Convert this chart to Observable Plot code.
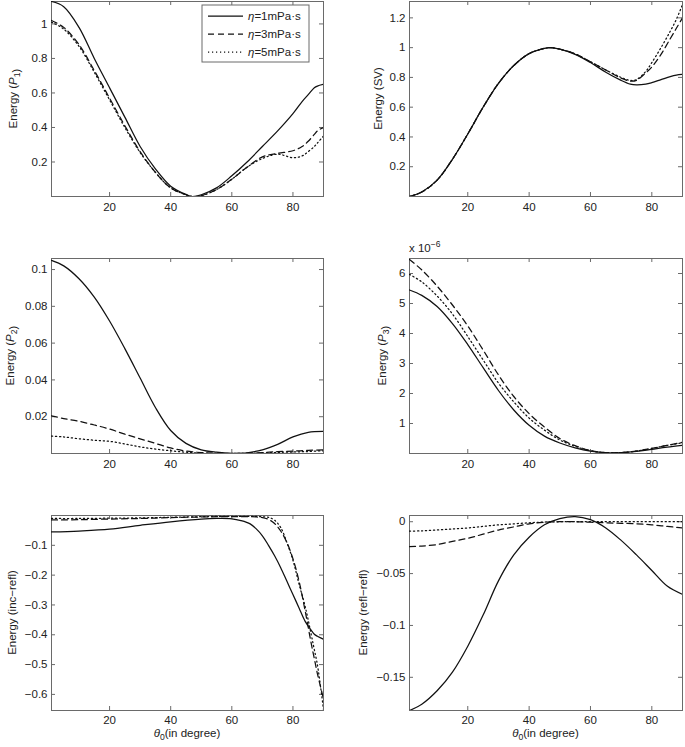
<!DOCTYPE html>
<html><head><meta charset="utf-8">
<script src="https://cdn.jsdelivr.net/npm/d3@7"></script>
<script src="https://cdn.jsdelivr.net/npm/@observablehq/plot@0.6"></script>
<style>
body{margin:0;background:#fff;}
#wrap{position:relative;width:685px;height:747px;background:#fff;font-family:"Liberation Sans",Arial,sans-serif;}
.panel{position:absolute;}
.panel svg{overflow:visible;}
</style></head><body><div id="wrap"></div>
<script>
// ---------- data ----------
const seriesNames = ["η=1mPa·s", "η=3mPa·s", "η=5mPa·s"];
const xTicks = [20, 40, 60, 80];

// Energy (P1)
const thetaP1 = [1,5,10,15,20,25,30,35,40,45,47,50,55,60,65,70,75,80,83,85,87,88,90];
const p1Eta1 = [1.13,1.10,0.98,0.80,0.63,0.46,0.29,0.16,0.06,0.012,0.0,0.01,0.05,0.12,0.20,0.29,0.38,0.48,0.55,0.59,0.63,0.64,0.65];
const p1Eta3 = [1.02,0.98,0.88,0.73,0.57,0.41,0.26,0.14,0.05,0.01,0.0,0.005,0.04,0.10,0.17,0.23,0.25,0.265,0.29,0.32,0.36,0.38,0.40];
const p1Eta5 = [1.01,0.97,0.87,0.72,0.56,0.40,0.255,0.14,0.05,0.01,0.0,0.005,0.04,0.10,0.17,0.22,0.245,0.225,0.235,0.26,0.29,0.31,0.35];
const p1Ticks = [0.2,0.4,0.6,0.8,1];

// Energy (SV)
const thetaSV = [1,5,10,15,20,25,30,35,40,45,47,50,55,60,65,70,73,75,78,80,83,86,88,90];
const svEta1 = [0,0.03,0.11,0.25,0.42,0.60,0.76,0.88,0.96,0.995,1.0,0.99,0.955,0.90,0.835,0.78,0.755,0.75,0.755,0.765,0.785,0.805,0.815,0.82];
const svEta3 = [0,0.03,0.11,0.25,0.42,0.60,0.76,0.88,0.96,0.995,1.0,0.99,0.958,0.905,0.85,0.795,0.775,0.78,0.83,0.87,0.955,1.06,1.13,1.20];
const svEta5 = [0,0.03,0.11,0.25,0.42,0.60,0.76,0.88,0.96,0.995,1.0,0.99,0.958,0.905,0.85,0.80,0.78,0.785,0.84,0.90,1.00,1.11,1.19,1.29];
const svTicks = [0.2,0.4,0.6,0.8,1,1.2];

// Energy (P2)
const thetaP2 = [1,5,10,15,20,25,30,35,40,45,50,55,60,65,70,75,80,85,90];
const p2Eta1 = [0.105,0.102,0.095,0.085,0.072,0.057,0.041,0.025,0.0125,0.0055,0.002,0.0007,0.0001,0.0004,0.002,0.005,0.009,0.0115,0.012];
const p2Eta3 = [0.0205,0.019,0.0175,0.0155,0.0133,0.0105,0.008,0.0055,0.003,0.0013,0.0005,0.0001,0,0.0002,0.0005,0.001,0.0013,0.0017,0.002];
const p2Eta5 = [0.0095,0.009,0.008,0.0072,0.0066,0.0052,0.0036,0.0024,0.0015,0.0007,0.0002,0,0,0.0001,0.0003,0.0006,0.0008,0.0011,0.0015];
const p2Ticks = [0.02,0.04,0.06,0.08,0.1];

// Energy (P3), in units of 1e-6
const thetaP3 = [1,5,10,15,20,25,30,35,40,45,50,55,60,65,70,75,80,85,90];
const p3Eta1 = [5.45,5.27,4.9,4.33,3.63,2.86,2.1,1.45,0.94,0.58,0.35,0.19,0.08,0.03,0.03,0.07,0.14,0.21,0.27];
const p3Eta3 = [6.47,6.12,5.58,4.95,4.25,3.45,2.62,1.9,1.33,0.88,0.5,0.26,0.1,0.03,0.03,0.08,0.17,0.27,0.37];
const p3Eta5 = [5.97,5.72,5.25,4.65,3.9,3.12,2.35,1.72,1.18,0.78,0.45,0.24,0.09,0.03,0.03,0.08,0.17,0.27,0.36];
const p3Ticks = [1,2,3,4,5,6];

// Energy (inc−refl)
const thetaInc = [1,10,20,30,40,50,55,60,63,66,68,70,72,74,76,78,80,82,84,86,87,88,90];
const incEta1 = [-0.055,-0.052,-0.046,-0.033,-0.021,-0.012,-0.01,-0.011,-0.017,-0.028,-0.045,-0.068,-0.1,-0.135,-0.175,-0.22,-0.265,-0.31,-0.355,-0.385,-0.398,-0.405,-0.415];
const incEta3 = [-0.015,-0.014,-0.012,-0.01,-0.007,-0.005,-0.004,-0.004,-0.004,-0.004,-0.005,-0.007,-0.013,-0.027,-0.052,-0.09,-0.145,-0.22,-0.32,-0.43,-0.48,-0.53,-0.615];
const incEta5 = [-0.01,-0.01,-0.009,-0.008,-0.006,-0.004,-0.003,-0.003,-0.003,-0.003,-0.003,-0.004,-0.006,-0.016,-0.04,-0.09,-0.15,-0.23,-0.305,-0.40,-0.45,-0.50,-0.65];
const incTicks = [-0.6,-0.5,-0.4,-0.3,-0.2,-0.1];

// Energy (refl−refl)
const thetaRefl = [1,5,10,15,20,25,30,35,40,45,50,55,60,65,70,75,80,85,90];
const reflEta1 = [-0.182,-0.176,-0.163,-0.145,-0.12,-0.09,-0.057,-0.032,-0.015,-0.003,0.003,0.005,0.002,-0.006,-0.018,-0.032,-0.047,-0.062,-0.07];
const reflEta3 = [-0.024,-0.0235,-0.022,-0.019,-0.016,-0.012,-0.008,-0.005,-0.002,-0.0005,0,0,-0.0005,-0.001,-0.0015,-0.002,-0.003,-0.0045,-0.006];
const reflEta5 = [-0.009,-0.0088,-0.008,-0.007,-0.006,-0.0045,-0.003,-0.002,-0.001,-0.0003,0,0,0,0,0,0,0,0,0];
const reflTicks = [-0.15,-0.1,-0.05,0];

// ---------- layout / style ----------
const FONT = '"Liberation Sans", Arial, Helvetica, sans-serif';
const BOX = "#6a6a6a";
const dashes = [null, "6,4", "1.2,2.8"];

const panels = [
  {theta: thetaP1, ys: [p1Eta1,p1Eta3,p1Eta5], domain: [0,1.13], ticks: p1Ticks,
   label: ["Energy (", {i:"P"}, {sub:"1"}, ")"], labelOff: 34, legend: true, tickPad: 6,
   left: 0, top: 0, width: 330, height: 215, mL: 51, mR: 7, mT: 1, mB: 19},
  {theta: thetaSV, ys: [svEta1,svEta3,svEta5], domain: [0,1.31], ticks: svTicks,
   label: ["Energy (SV)"], labelOff: 27, tickPad: 6,
   left: 340, top: 0, width: 345, height: 215, mL: 69, mR: 3, mT: 1, mB: 19},
  {theta: thetaP2, ys: [p2Eta1,p2Eta3,p2Eta5], domain: [0,0.106], ticks: p2Ticks,
   label: ["Energy (", {i:"P"}, {sub:"2"}, ")"], labelOff: 37, tickPad: 6,
   left: 0, top: 230, width: 330, height: 242, mL: 51, mR: 7, mT: 28, mB: 19},
  {theta: thetaP3, ys: [p3Eta1,p3Eta3,p3Eta5], domain: [0,6.5], ticks: p3Ticks,
   label: ["Energy (", {i:"P"}, {sub:"3"}, ")"], labelOff: 23, exponent: true, tickPad: 6,
   left: 340, top: 230, width: 345, height: 242, mL: 69, mR: 3, mT: 28, mB: 19},
  {theta: thetaInc, ys: [incEta1,incEta3,incEta5], domain: [-0.654,0], ticks: incTicks,
   label: ["Energy (inc−refl)"], labelOff: 35, xlabel: true, tickPad: 5,
   left: 0, top: 500, width: 330, height: 247, mL: 51, mR: 7, mT: 15, mB: 37},
  {theta: thetaRefl, ys: [reflEta1,reflEta3,reflEta5], domain: [-0.182,0.006], ticks: reflTicks,
   label: ["Energy (refl−refl)"], labelOff: 42, xlabel: true, tickPad: 5,
   left: 340, top: 500, width: 345, height: 247, mL: 69, mR: 3, mT: 15, mB: 37}
];

const wrap = document.getElementById("wrap");
const fmt = d3.format("~g");

function addRich(sel, parts, fs) {
  parts.forEach(p => {
    if (typeof p === "string") sel.append("tspan").text(p);
    else if (p.i) sel.append("tspan").attr("font-style", "italic").text(p.i);
    else if (p.sub) {
      sel.append("tspan").attr("font-size", fs*0.75).attr("dy", 3).text(p.sub);
      sel.append("tspan").attr("dy", -3).text("");
    }
  });
}

panels.forEach(pn => {
  const innerW = pn.width - pn.mL - pn.mR;
  const innerH = pn.height - pn.mT - pn.mB;
  const marks = [];
  marks.push(Plot.frame({stroke: BOX, strokeWidth: 1}));
  // inward ticks on all four sides
  marks.push(Plot.tickX(xTicks, {x: d => d, insetTop: innerH - 4, stroke: BOX}));
  marks.push(Plot.tickX(xTicks, {x: d => d, insetBottom: innerH - 4, stroke: BOX}));
  marks.push(Plot.tickY(pn.ticks, {y: d => d, insetRight: innerW - 4, stroke: BOX}));
  marks.push(Plot.tickY(pn.ticks, {y: d => d, insetLeft: innerW - 4, stroke: BOX}));
  marks.push(Plot.axisX({ticks: xTicks, tickSize: 0, tickPadding: pn.tickPad, label: null, tickFormat: fmt, fontSize: 11.5, fill: "#222"}));
  marks.push(Plot.axisY({ticks: pn.ticks, tickSize: 0, tickPadding: 4, label: null, tickFormat: fmt, fontSize: 11.5, fill: "#222"}));
  pn.ys.forEach((arr, k) => {
    const data = pn.theta.map((t, i) => ({theta: t, value: arr[i], series: seriesNames[k]}));
    marks.push(Plot.line(data, {x: "theta", y: "value", stroke: "#111", strokeWidth: 1.25,
      strokeDasharray: dashes[k], curve: "catmull-rom", clip: true}));
  });
  const svg = Plot.plot({
    width: pn.width, height: pn.height,
    marginLeft: pn.mL, marginRight: pn.mR, marginTop: pn.mT, marginBottom: pn.mB,
    x: {domain: [1, 90]},
    y: {domain: pn.domain},
    style: {fontFamily: FONT, fontSize: "11.5px", background: "transparent", overflow: "visible"},
    marks
  });
  const div = document.createElement("div");
  div.className = "panel";
  div.style.left = pn.left + "px";
  div.style.top = pn.top + "px";
  div.appendChild(svg);
  wrap.appendChild(div);

  const s = d3.select(svg);
  const fs = 11.5;
  // y label
  const yl = s.append("text")
    .attr("transform", `translate(${pn.mL - pn.labelOff},${pn.mT + innerH/2}) rotate(-90)`)
    .attr("text-anchor", "middle").attr("font-size", fs).attr("fill", "#222")
    .attr("font-family", FONT);
  addRich(yl, pn.label, fs);

  if (pn.exponent) {
    const t = s.append("text").attr("x", pn.mL).attr("y", pn.mT - 6)
      .attr("text-anchor", "start")
      .attr("font-size", fs).attr("fill", "#222").attr("font-family", FONT);
    t.append("tspan").text("x 10");
    t.append("tspan").attr("dy", -5).attr("font-size", 8.5).text("−6");
  }
  if (pn.xlabel) {
    const t = s.append("text").attr("x", pn.mL + innerW/2).attr("y", pn.mT + innerH + 27)
      .attr("text-anchor", "middle").attr("font-size", fs).attr("fill", "#222").attr("font-family", FONT);
    t.append("tspan").attr("font-style", "italic").text("θ");
    t.append("tspan").attr("font-size", fs*0.75).attr("dy", 3).text("0");
    t.append("tspan").attr("dy", -3).text("(in degree)");
  }
  if (pn.legend) {
    const g = s.append("g").attr("font-family", FONT).attr("font-size", fs).attr("text-anchor", "start");
    g.append("rect").attr("x", 202).attr("y", 5).attr("width", 107).attr("height", 57)
      .attr("fill", "#fff").attr("stroke", BOX);
    seriesNames.forEach((name, k) => {
      const yy = 16 + k*18;
      g.append("line").attr("x1", 208).attr("x2", 243).attr("y1", yy).attr("y2", yy)
        .attr("stroke", "#111").attr("stroke-width", 1.25).attr("stroke-dasharray", dashes[k]);
      const t = g.append("text").attr("x", 248).attr("y", yy + 4).attr("fill", "#222")
        .attr("text-anchor", "start");
      t.append("tspan").attr("font-style", "italic").text("η");
      t.append("tspan").text(name.slice(1));
    });
  }
});
</script></body></html>
